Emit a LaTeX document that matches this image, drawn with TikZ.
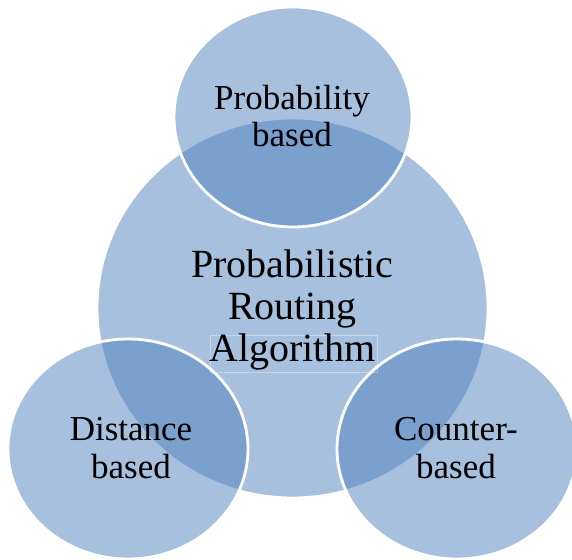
\documentclass[tikz,border=0pt]{standalone}
\usepackage{fontspec}
\setmainfont{Liberation Serif}
\definecolor{vennblue}{HTML}{4F81BD}
\tikzset{
  venn/.style={fill=vennblue, fill opacity=0.5, draw=white, line width=2.8pt},
  bigtext/.style={inner sep=0pt, anchor=base, align=center, text=black, font=\fontsize{40}{42}\selectfont},
  smalltext/.style={inner sep=0pt, anchor=base, align=center, text=black, font=\fontsize{35}{37}\selectfont}
}
\begin{document}
\begin{tikzpicture}[x=1pt,y=1pt]
\useasboundingbox (0,0) rectangle (572,559);
\path[venn] (292.5,251) ellipse [x radius=195.5pt, y radius=190pt];
\path[venn] (293,442) ellipse [x radius=119pt, y radius=110pt];
\path[venn] (128,110) ellipse [x radius=120pt, y radius=110pt];
\path[venn] (457,110) ellipse [x radius=120pt, y radius=110pt];
\draw[white, draw opacity=0.35, line width=0.5pt] (210,187) rectangle (377,224);
\node[bigtext] (center) at (292.5,197) {Probabilistic\\Routing\\Algorithm};
\node[smalltext] (top) at (292,412) {Probability\\based};
\node[smalltext] (left) at (131,81) {Distance\\based};
\node[smalltext] (right) at (456,81) {Counter-\\based};
\end{tikzpicture}
\end{document}
